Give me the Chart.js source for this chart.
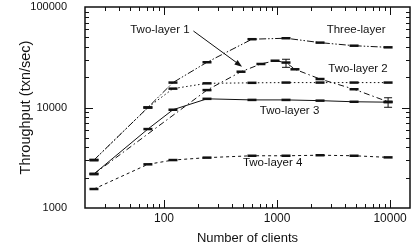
<!DOCTYPE html>
<html>
<head>
<meta charset="utf-8">
<script src="https://cdn.jsdelivr.net/npm/chart.js@4/dist/chart.umd.min.js"></script>
<style>
  html, body { margin: 0; padding: 0; background: #fff; }
  #wrap { width: 417px; height: 248px; }
</style>
</head>
<body>
<div id="wrap"><canvas id="chart" width="417" height="248"></canvas></div>
<script>
// data
const threeLayerClients = [24, 72, 120, 240, 600, 1200, 2400, 4800, 9600];
const threeLayerTput = [3000, 10000, 17700, 28200, 47800, 48900, 44200, 41200, 39700];

const twoLayer1Clients = [24, 240, 480, 720, 960, 1200, 1440, 2400, 4800, 9600];
const twoLayer1Tput = [2180, 14900, 22700, 27100, 29200, 28000, 24000, 19200, 15200, 11400];

const twoLayer2Clients = [24, 72, 120, 240, 600, 1200, 2400, 4800, 9600];
const twoLayer2Tput = [3000, 10000, 15400, 17400, 17600, 17700, 17700, 17700, 17700];

const twoLayer3Clients = [24, 72, 120, 240, 600, 1200, 2400, 4800, 9600];
const twoLayer3Tput = [2180, 6100, 9500, 12200, 11900, 11900, 11700, 11400, 11300];

const twoLayer4Clients = [24, 72, 120, 240, 600, 1200, 2400, 4800, 9600];
const twoLayer4Tput = [1545, 2720, 3000, 3170, 3310, 3310, 3350, 3310, 3190];

// error bars
const errClients = [1200, 9600];
const errLow = [25100, 10050];
const errHigh = [30200, 12500];

const xTickLabels = [100, 1000, 10000];
const yTickLabels = [1000, 10000, 100000];

// text labels, placed in data coordinates
const noteText = ['Three-layer', 'Two-layer 1', 'Two-layer 2', 'Two-layer 3', 'Two-layer 4'];
const noteClients = [5000, 92, 5200, 1290, 914];
const noteTput = [59000, 59000, 24200, 9230, 2810];
const arrowFrom = [182, 57700];
const arrowTo = [490, 25500];

const FONT = '"Liberation Sans", Arial, Helvetica, sans-serif';
const INK = '#111';

const toPoints = (xs, ys) => xs.map((x, i) => ({ x: x, y: ys[i] }));

const lineSet = (label, xs, ys, dash) => ({
  label: label,
  data: toPoints(xs, ys),
  borderColor: INK,
  backgroundColor: INK,
  borderWidth: 1,
  borderDash: dash,
  pointStyle: 'line',
  pointRadius: 4.5,
  pointBorderWidth: 2.5,
  pointBorderColor: INK,
  tension: 0
});

function isMajor(v) {
  const l = Math.log10(v);
  return Math.abs(l - Math.round(l)) < 1e-6;
}
function isStep(v) {
  const m = v / Math.pow(10, Math.floor(Math.log10(v) + 1e-9));
  return Math.abs(m - Math.round(m)) < 1e-6;
}

const framePlugin = {
  id: 'frame',
  afterDraw(chart) {
    const ctx = chart.ctx;
    const a = chart.chartArea;
    const xs = chart.scales.x;
    const ys = chart.scales.y;
    ctx.save();
    ctx.strokeStyle = INK;

    // error bars
    ctx.lineWidth = 1;
    errClients.forEach((c, i) => {
      const px = xs.getPixelForValue(c);
      const lo = ys.getPixelForValue(errLow[i]);
      const hi = ys.getPixelForValue(errHigh[i]);
      ctx.beginPath();
      ctx.moveTo(px, lo); ctx.lineTo(px, hi);
      ctx.moveTo(px - 4, lo); ctx.lineTo(px + 4, lo);
      ctx.moveTo(px - 4, hi); ctx.lineTo(px + 4, hi);
      ctx.stroke();
    });

    // inward tick marks on all four sides
    ctx.lineWidth = 1;
    ctx.beginPath();
    xs.ticks.forEach(t => {
      const v = t.value;
      if (!isStep(v)) return;
      const px = Math.round(xs.getPixelForValue(v)) + 0.5;
      if (px <= a.left + 1 || px >= a.right - 1) return;
      const len = isMajor(v) ? 8 : 4;
      ctx.moveTo(px, a.bottom); ctx.lineTo(px, a.bottom - len);
      ctx.moveTo(px, a.top); ctx.lineTo(px, a.top + len);
    });
    ys.ticks.forEach(t => {
      const v = t.value;
      if (!isStep(v)) return;
      const py = Math.round(ys.getPixelForValue(v)) + 0.5;
      if (py <= a.top + 1 || py >= a.bottom - 1) return;
      const len = isMajor(v) ? 8 : 4;
      ctx.moveTo(a.left, py); ctx.lineTo(a.left + len, py);
      ctx.moveTo(a.right, py); ctx.lineTo(a.right - len, py);
    });
    ctx.stroke();

    // frame
    ctx.lineWidth = 1.5;
    ctx.strokeRect(a.left, a.top, a.right - a.left, a.bottom - a.top);

    // text labels
    ctx.fillStyle = INK;
    ctx.font = '11.5px ' + FONT;
    ctx.textAlign = 'center';
    ctx.textBaseline = 'middle';
    noteText.forEach((s, i) => {
      ctx.fillText(s, xs.getPixelForValue(noteClients[i]), ys.getPixelForValue(noteTput[i]));
    });

    // arrow
    const x0 = xs.getPixelForValue(arrowFrom[0]), y0 = ys.getPixelForValue(arrowFrom[1]);
    const x1 = xs.getPixelForValue(arrowTo[0]), y1 = ys.getPixelForValue(arrowTo[1]);
    const ang = Math.atan2(y1 - y0, x1 - x0);
    ctx.lineWidth = 1;
    ctx.beginPath();
    ctx.moveTo(x0, y0); ctx.lineTo(x1 - 5 * Math.cos(ang), y1 - 5 * Math.sin(ang));
    ctx.stroke();
    ctx.beginPath();
    ctx.moveTo(x1, y1);
    ctx.lineTo(x1 - 8 * Math.cos(ang - 0.35), y1 - 8 * Math.sin(ang - 0.35));
    ctx.lineTo(x1 - 8 * Math.cos(ang + 0.35), y1 - 8 * Math.sin(ang + 0.35));
    ctx.closePath();
    ctx.fill();
    ctx.restore();
  }
};

const tickLabel = list => v => (list.some(t => Math.abs(t - v) < 1e-6) ? String(v) : '');

new Chart(document.getElementById('chart'), {
  type: 'line',
  data: {
    datasets: [
      lineSet('Three-layer', threeLayerClients, threeLayerTput, [7, 2, 1.5, 2, 1.5, 2]),
      lineSet('Two-layer 1', twoLayer1Clients, twoLayer1Tput, [6, 3, 1.5, 3]),
      lineSet('Two-layer 2', twoLayer2Clients, twoLayer2Tput, [1.5, 2.5]),
      lineSet('Two-layer 3', twoLayer3Clients, twoLayer3Tput, []),
      lineSet('Two-layer 4', twoLayer4Clients, twoLayer4Tput, [3, 3])
    ]
  },
  options: {
    responsive: false,
    animation: false,
    layout: { padding: { top: 7, right: 5, left: 0, bottom: 0 } },
    plugins: { legend: { display: false }, tooltip: { enabled: false } },
    scales: {
      x: {
        type: 'logarithmic',
        min: 20,
        max: 15000,
        grid: { display: false, drawTicks: false },
        border: { display: false },
        ticks: {
          autoSkip: false,
          maxRotation: 0,
          padding: 3,
          color: INK,
          font: { family: FONT, size: 12 },
          callback: tickLabel(xTickLabels)
        },
        title: {
          display: true,
          text: 'Number of clients',
          color: INK,
          font: { family: FONT, size: 13 },
          padding: { top: 0, bottom: 2 }
        },
        afterFit: s => { s.height = 40; s.paddingLeft = 0; s.paddingRight = 0; }
      },
      y: {
        type: 'logarithmic',
        min: 1000,
        max: 100000,
        grid: { display: false },
        border: { display: false },
        ticks: {
          autoSkip: false,
          padding: 10,
          color: INK,
          font: { family: FONT, size: 11 },
          callback: tickLabel(yTickLabels)
        },
        title: {
          display: true,
          text: 'Throughput (txn/sec)',
          color: INK,
          font: { family: FONT, size: 14.5 },
          padding: { top: 17, bottom: 0 }
        },
        afterFit: s => { s.width = 85; s.paddingTop = 0; s.paddingBottom = 0; }
      }
    }
  },
  plugins: [framePlugin]
});
</script>
</body>
</html>
